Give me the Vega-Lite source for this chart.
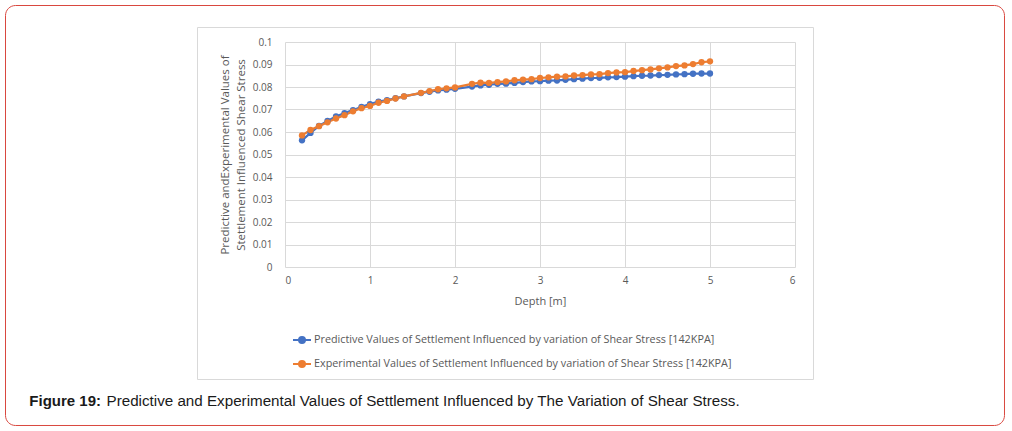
{
  "$schema": "https://vega.github.io/schema/vega-lite/v6.json",
  "width": 510,
  "height": 225,
  "autosize": {"type": "none"},
  "padding": {"left": 285, "top": 42, "right": 217, "bottom": 164},
  "background": "white",
  "config": {
    "view": {"stroke": null},
    "font": "Open Sans",
    "axis": {
      "domain": false,
      "ticks": false,
      "gridColor": "#d9d9d9",
      "gridWidth": 1,
      "labelColor": "#595959",
      "labelFont": "Open Sans",
      "labelFontSize": 10,
      "titleColor": "#595959",
      "titleFont": "Open Sans",
      "titleFontWeight": "normal"
    },
    "axisY": {"tickCount": 20},
    "axisX": {"tickCount": 20}
  },
  "datasets": {
    "series": [
      {"depth": 0.2, "value": 0.0563, "series": "Predictive"},
      {"depth": 0.3, "value": 0.0596, "series": "Predictive"},
      {"depth": 0.4, "value": 0.0627, "series": "Predictive"},
      {"depth": 0.5, "value": 0.0649, "series": "Predictive"},
      {"depth": 0.6, "value": 0.0669, "series": "Predictive"},
      {"depth": 0.7, "value": 0.0684, "series": "Predictive"},
      {"depth": 0.8, "value": 0.0697, "series": "Predictive"},
      {"depth": 0.9, "value": 0.0712, "series": "Predictive"},
      {"depth": 1.0, "value": 0.0724, "series": "Predictive"},
      {"depth": 1.1, "value": 0.0735, "series": "Predictive"},
      {"depth": 1.2, "value": 0.0742, "series": "Predictive"},
      {"depth": 1.3, "value": 0.0750, "series": "Predictive"},
      {"depth": 1.4, "value": 0.0758, "series": "Predictive"},
      {"depth": 1.6, "value": 0.0773, "series": "Predictive"},
      {"depth": 1.7, "value": 0.0779, "series": "Predictive"},
      {"depth": 1.8, "value": 0.0785, "series": "Predictive"},
      {"depth": 1.9, "value": 0.0788, "series": "Predictive"},
      {"depth": 2.0, "value": 0.0792, "series": "Predictive"},
      {"depth": 2.2, "value": 0.0802, "series": "Predictive"},
      {"depth": 2.3, "value": 0.0807, "series": "Predictive"},
      {"depth": 2.4, "value": 0.0810, "series": "Predictive"},
      {"depth": 2.5, "value": 0.0814, "series": "Predictive"},
      {"depth": 2.6, "value": 0.0815, "series": "Predictive"},
      {"depth": 2.7, "value": 0.0818, "series": "Predictive"},
      {"depth": 2.8, "value": 0.0822, "series": "Predictive"},
      {"depth": 2.9, "value": 0.0825, "series": "Predictive"},
      {"depth": 3.0, "value": 0.0826, "series": "Predictive"},
      {"depth": 3.1, "value": 0.0828, "series": "Predictive"},
      {"depth": 3.2, "value": 0.0829, "series": "Predictive"},
      {"depth": 3.3, "value": 0.0832, "series": "Predictive"},
      {"depth": 3.4, "value": 0.0835, "series": "Predictive"},
      {"depth": 3.5, "value": 0.0837, "series": "Predictive"},
      {"depth": 3.6, "value": 0.0840, "series": "Predictive"},
      {"depth": 3.7, "value": 0.0841, "series": "Predictive"},
      {"depth": 3.8, "value": 0.0843, "series": "Predictive"},
      {"depth": 3.9, "value": 0.0844, "series": "Predictive"},
      {"depth": 4.0, "value": 0.0846, "series": "Predictive"},
      {"depth": 4.1, "value": 0.0848, "series": "Predictive"},
      {"depth": 4.2, "value": 0.0850, "series": "Predictive"},
      {"depth": 4.3, "value": 0.0851, "series": "Predictive"},
      {"depth": 4.4, "value": 0.0853, "series": "Predictive"},
      {"depth": 4.5, "value": 0.0854, "series": "Predictive"},
      {"depth": 4.6, "value": 0.0856, "series": "Predictive"},
      {"depth": 4.7, "value": 0.0857, "series": "Predictive"},
      {"depth": 4.8, "value": 0.0859, "series": "Predictive"},
      {"depth": 4.9, "value": 0.0860, "series": "Predictive"},
      {"depth": 5.0, "value": 0.0860, "series": "Predictive"},
      {"depth": 0.2, "value": 0.0585, "series": "Experimental"},
      {"depth": 0.3, "value": 0.0609, "series": "Experimental"},
      {"depth": 0.4, "value": 0.0626, "series": "Experimental"},
      {"depth": 0.5, "value": 0.0643, "series": "Experimental"},
      {"depth": 0.6, "value": 0.0660, "series": "Experimental"},
      {"depth": 0.7, "value": 0.0675, "series": "Experimental"},
      {"depth": 0.8, "value": 0.0692, "series": "Experimental"},
      {"depth": 0.9, "value": 0.0706, "series": "Experimental"},
      {"depth": 1.0, "value": 0.0716, "series": "Experimental"},
      {"depth": 1.1, "value": 0.0730, "series": "Experimental"},
      {"depth": 1.2, "value": 0.0738, "series": "Experimental"},
      {"depth": 1.3, "value": 0.0749, "series": "Experimental"},
      {"depth": 1.4, "value": 0.0758, "series": "Experimental"},
      {"depth": 1.6, "value": 0.0774, "series": "Experimental"},
      {"depth": 1.7, "value": 0.0782, "series": "Experimental"},
      {"depth": 1.8, "value": 0.0790, "series": "Experimental"},
      {"depth": 1.9, "value": 0.0794, "series": "Experimental"},
      {"depth": 2.0, "value": 0.0798, "series": "Experimental"},
      {"depth": 2.2, "value": 0.0814, "series": "Experimental"},
      {"depth": 2.3, "value": 0.0819, "series": "Experimental"},
      {"depth": 2.4, "value": 0.0818, "series": "Experimental"},
      {"depth": 2.5, "value": 0.0822, "series": "Experimental"},
      {"depth": 2.6, "value": 0.0825, "series": "Experimental"},
      {"depth": 2.7, "value": 0.0830, "series": "Experimental"},
      {"depth": 2.8, "value": 0.0833, "series": "Experimental"},
      {"depth": 2.9, "value": 0.0835, "series": "Experimental"},
      {"depth": 3.0, "value": 0.0840, "series": "Experimental"},
      {"depth": 3.1, "value": 0.0843, "series": "Experimental"},
      {"depth": 3.2, "value": 0.0846, "series": "Experimental"},
      {"depth": 3.3, "value": 0.0847, "series": "Experimental"},
      {"depth": 3.4, "value": 0.0851, "series": "Experimental"},
      {"depth": 3.5, "value": 0.0853, "series": "Experimental"},
      {"depth": 3.6, "value": 0.0856, "series": "Experimental"},
      {"depth": 3.7, "value": 0.0857, "series": "Experimental"},
      {"depth": 3.8, "value": 0.0862, "series": "Experimental"},
      {"depth": 3.9, "value": 0.0865, "series": "Experimental"},
      {"depth": 4.0, "value": 0.0866, "series": "Experimental"},
      {"depth": 4.1, "value": 0.0871, "series": "Experimental"},
      {"depth": 4.2, "value": 0.0875, "series": "Experimental"},
      {"depth": 4.3, "value": 0.0878, "series": "Experimental"},
      {"depth": 4.4, "value": 0.0883, "series": "Experimental"},
      {"depth": 4.5, "value": 0.0887, "series": "Experimental"},
      {"depth": 4.6, "value": 0.0893, "series": "Experimental"},
      {"depth": 4.7, "value": 0.0896, "series": "Experimental"},
      {"depth": 4.8, "value": 0.0902, "series": "Experimental"},
      {"depth": 4.9, "value": 0.0910, "series": "Experimental"},
      {"depth": 5.0, "value": 0.0914, "series": "Experimental"}
    ],
    "caption": [{"bold": "Figure 19:", "text": "Predictive and Experimental Values of Settlement Influenced by The Variation of Shear Stress."}]
  },
  "layer": [
    {
      "data": {"name": "series"},
      "mark": {"type": "line", "strokeWidth": 2.25, "point": {"filled": true, "size": 40, "opacity": 1}},
      "encoding": {
        "x": {
          "field": "depth", "type": "quantitative",
          "scale": {"domain": [0, 6], "nice": false, "zero": false},
          "axis": {
            "values": [0, 1, 2, 3, 4, 5, 6],
            "tickCount": 20,
            "format": "~g",
            "title": "Depth [m]",
            "titleFontSize": 11,
            "labelPadding": 8,
            "titlePadding": 10
          }
        },
        "y": {
          "field": "value", "type": "quantitative",
          "scale": {"domain": [0, 0.1], "nice": false, "zero": false},
          "axis": {
            "values": [0, 0.01, 0.02, 0.03, 0.04, 0.05, 0.06, 0.07, 0.08, 0.09, 0.1],
            "tickCount": 20,
            "format": "~g",
            "labelPadding": 13,
            "labelOverlap": false,
            "title": ["Predictive andExperimental Values of", "Stettlement  Influenced Shear Stress"],
            "titleFontSize": 11.5,
            "titleLineHeight": 16,
            "titlePadding": 6
          }
        },
        "color": {
          "field": "series", "type": "nominal",
          "scale": {"domain": ["Predictive", "Experimental"], "range": ["#4472c4", "#ed7d31"]},
          "legend": {
            "orient": "none",
            "legendX": 11,
            "legendY": 292,
            "title": null,
            "padding": 0,
            "symbolType": "M-1.8,0H1.8M0.6,0A0.6,0.6,0,1,1,-0.6,0A0.6,0.6,0,1,1,0.6,0Z",
            "symbolSize": 100,
            "symbolStrokeWidth": 2,
            "labelFont": "Open Sans",
            "labelFontSize": 10.8,
            "labelColor": "#595959",
            "labelOffset": 6,
            "labelLimit": 600,
            "rowPadding": 10,
            "labelExpr": "datum.label == 'Predictive' ? 'Predictive Values of Settlement Influenced by variation of Shear Stress [142KPA]' : 'Experimental  Values of Settlement Influenced by variation of Shear Stress [142KPA]'"
          }
        }
      }
    },
    {
      "data": {"name": "caption"},
      "mark": {"type": "rect", "fill": null, "stroke": "#d9473f", "strokeWidth": 1, "cornerRadius": 10},
      "encoding": {
        "x": {"datum": -3.2882, "type": "quantitative"},
        "x2": {"datum": 8.4647},
        "y": {"datum": 0.116222, "type": "quantitative"},
        "y2": {"datum": -0.070444}
      }
    },
    {
      "data": {"name": "caption"},
      "mark": {"type": "rect", "fill": null, "stroke": "#d9d9d9", "strokeWidth": 1},
      "encoding": {
        "x": {"datum": -1.0294, "type": "quantitative"},
        "x2": {"datum": 6.2176},
        "y": {"datum": 0.106444, "type": "quantitative"},
        "y2": {"datum": -0.05}
      }
    },
    {
      "data": {"name": "caption"},
      "mark": {"type": "text", "align": "left", "baseline": "middle", "font": "Liberation Sans", "fontSize": 15, "fontWeight": "bold", "color": "#1a1a1a"},
      "encoding": {
        "x": {"datum": -3.0082, "type": "quantitative"},
        "y": {"datum": -0.059556, "type": "quantitative"},
        "text": {"field": "bold"}
      }
    },
    {
      "data": {"name": "caption"},
      "mark": {"type": "text", "align": "left", "baseline": "middle", "font": "Liberation Sans", "fontSize": 15.2, "color": "#1a1a1a"},
      "encoding": {
        "x": {"datum": -2.1, "type": "quantitative"},
        "y": {"datum": -0.059556, "type": "quantitative"},
        "text": {"field": "text"}
      }
    }
  ]
}
